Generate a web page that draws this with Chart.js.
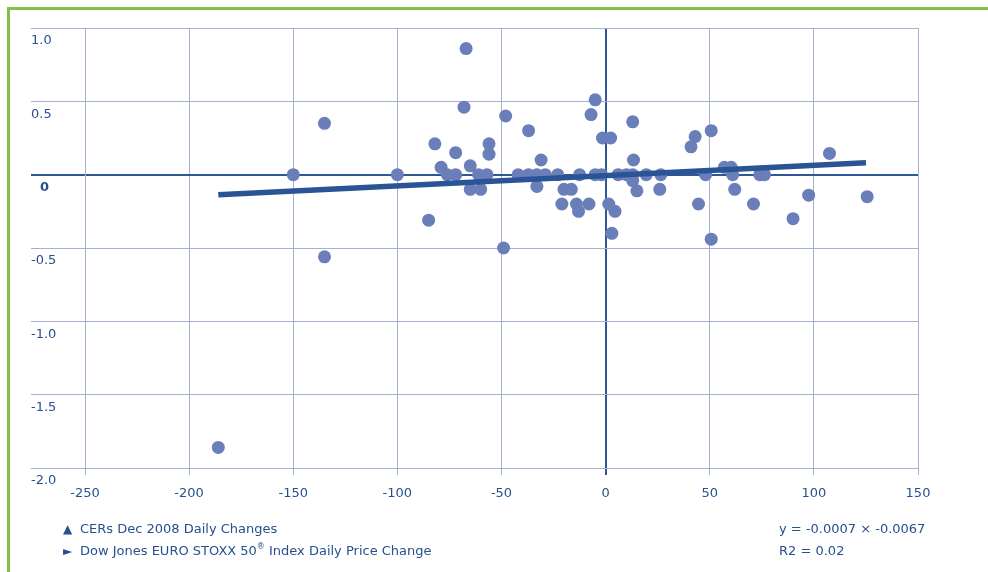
<!DOCTYPE html>
<html>
<head>
<meta charset="utf-8">
<script src="https://cdn.jsdelivr.net/npm/chart.js@4/dist/chart.umd.min.js"></script>
<style>
  html, body { margin: 0; padding: 0; background: #ffffff; }
  #wrap { position: relative; width: 988px; height: 572px; overflow: hidden; }
  #wrap canvas { position: absolute; left: 0; top: 0; }
  #frame {
    position: absolute; left: 7px; top: 7px; right: -10px; bottom: -10px;
    border-left: 3px solid #7dc242; border-top: 3px solid #7dc242;
    pointer-events: none;
  }
</style>
</head>
<body>
<div id="wrap">
  <canvas id="chart" width="988" height="572"></canvas>
  <div id="frame"></div>
</div>
<script>
// Daily price change of the Dow Jones EURO STOXX 50 index (x)
const indexChange = [
  -186, -150, -135, -135, -100, -85, -82, -79, -76, -72,
  -72, -68, -67, -65, -65, -61, -60, -57, -56, -56,
  -49, -48, -42, -37, -37, -33, -33, -31, -29, -23,
  -21, -20, -16.5, -14, -13, -12.5, -8, -7, -5, -5,
  -2, -1.5, 2.4, 1.5, 3, 4.5, 6, 10, 13, 13.4,
  13, 13, 15, 19.5, 26.5, 26, 41, 43, 44.6, 48,
  50.7, 50.7, 57, 60.3, 61, 62, 71, 74, 76.3, 90,
  97.5, 107.5, 125.6
];
// Daily change of CERs Dec 2008 (y)
const cerChange = [
  -1.86, 0, 0.35, -0.56, 0, -0.31, 0.21, 0.05, 0, 0.15,
  0, 0.46, 0.86, 0.06, -0.1, 0, -0.1, 0, 0.21, 0.14,
  -0.5, 0.4, 0, 0.3, 0, 0, -0.08, 0.1, 0, 0,
  -0.2, -0.1, -0.1, -0.2, -0.25, 0, -0.2, 0.41, 0.51, 0,
  0, 0.25, 0.25, -0.2, -0.4, -0.25, 0, 0, 0.36, 0.1,
  0, -0.04, -0.11, 0, 0, -0.1, 0.19, 0.26, -0.2, 0,
  0.3, -0.44, 0.05, 0.05, 0, -0.1, -0.2, 0, 0, -0.3,
  -0.14, 0.145, -0.15
];

// Axis ticks
const xTicks = [-250, -200, -150, -100, -50, 0, 50, 100, 150];
const yTicks = [1.0, 0.5, 0, -0.5, -1.0, -1.5, -2.0];

// Trend line
const fitSlope = 0.0007;
const fitIntercept = -0.0067;
const fitRange = [-186, 125];

// Footer texts
const legendItems = ['CERs Dec 2008 Daily Changes', 'Dow Jones EURO STOXX 50|® Index Daily Price Change'];
const legendMarks = ['▲', '►'];
const fitLabels = ['y = -0.0007 × -0.0067', 'R2 = 0.02'];

const TEXT = '#27508f';
const GRID = '#a3b2d3';
const ZERO = '#2f5796';
const DOT = '#6a7eb9';
const FIT = '#2b5497';
const FONT = '"DejaVu Sans", "Liberation Sans", sans-serif';

const points = indexChange.map((x, i) => ({ x: x, y: cerChange[i] }));
const fitPoints = fitRange.map(x => ({ x: x, y: fitSlope * x + fitIntercept }));

const footer = {
  id: 'footer',
  afterDraw(chart) {
    const ctx = chart.ctx;
    ctx.save();
    ctx.fillStyle = TEXT;
    ctx.textBaseline = 'middle';
    const rows = [530, 552];
    legendItems.forEach((txt, i) => {
      ctx.font = '12px ' + FONT;
      ctx.textAlign = 'left';
      ctx.fillText(legendMarks[i], 63, rows[i]);
      let x = 80;
      txt.split('|').forEach((part, k) => {
        if (k > 0 && part.startsWith('®')) {
          ctx.font = '8px ' + FONT;
          ctx.fillText('®', x, rows[i] - 5);
          x += ctx.measureText('®').width;
          part = part.slice(1);
        }
        ctx.font = '13px ' + FONT;
        ctx.fillText(part, x, rows[i]);
        x += ctx.measureText(part).width;
      });
    });
    ctx.font = '13px ' + FONT;
    fitLabels.forEach((txt, i) => {
      ctx.fillText(txt, 779, rows[i]);
    });
    ctx.restore();
  }
};

new Chart(document.getElementById('chart'), {
  type: 'scatter',
  data: {
    datasets: [
      {
        type: 'line',
        label: 'Trend',
        data: fitPoints,
        borderColor: FIT,
        borderWidth: 5.5,
        pointRadius: 0,
        fill: false,
        order: 0
      },
      {
        label: legendItems[0],
        data: points,
        backgroundColor: DOT,
        borderColor: DOT,
        borderWidth: 0,
        pointRadius: 6.5,
        order: 1
      }
    ]
  },
  options: {
    responsive: false,
    animation: false,
    layout: { padding: { left: 31, top: 28, right: 70, bottom: 74 } },
    plugins: { legend: { display: false }, tooltip: { enabled: false } },
    scales: {
      x: {
        type: 'linear',
        min: -250, max: 150,
        afterBuildTicks(scale) { scale.ticks = xTicks.map(v => ({ value: v })); },
        afterFit(scale) { scale.height = 30; },
        grid: {
          color: c => (c.tick && c.tick.value === 0 ? ZERO : GRID),
          lineWidth: c => (c.tick && c.tick.value === 0 ? 2 : 1),
          drawTicks: true,
          tickLength: 7
        },
        border: { display: true, color: GRID, width: 1 },
        ticks: {
          color: TEXT,
          font: { family: FONT, size: 13 },
          padding: 11,
          maxRotation: 0,
          callback: v => String(v)
        }
      },
      y: {
        type: 'linear',
        min: -2, max: 1,
        afterBuildTicks(scale) { scale.ticks = yTicks.map(v => ({ value: v })); },
        afterFit(scale) { scale.width = 54; },
        grid: {
          color: c => (c.tick && c.tick.value === 0 ? ZERO : GRID),
          lineWidth: c => (c.tick && c.tick.value === 0 ? 2 : 1),
          drawTicks: true,
          tickLength: 54
        },
        border: { display: true, color: GRID, width: 1 },
        ticks: {
          color: TEXT,
          font: c => ({ family: FONT, size: 13, weight: c.tick && c.tick.value === 0 ? 'bold' : 'normal' }),
          crossAlign: 'far',
          labelOffset: 13,
          callback: v => (v === 0 ? '  0' : v.toFixed(1))
        }
      }
    }
  },
  plugins: [footer]
});
</script>
</body>
</html>
